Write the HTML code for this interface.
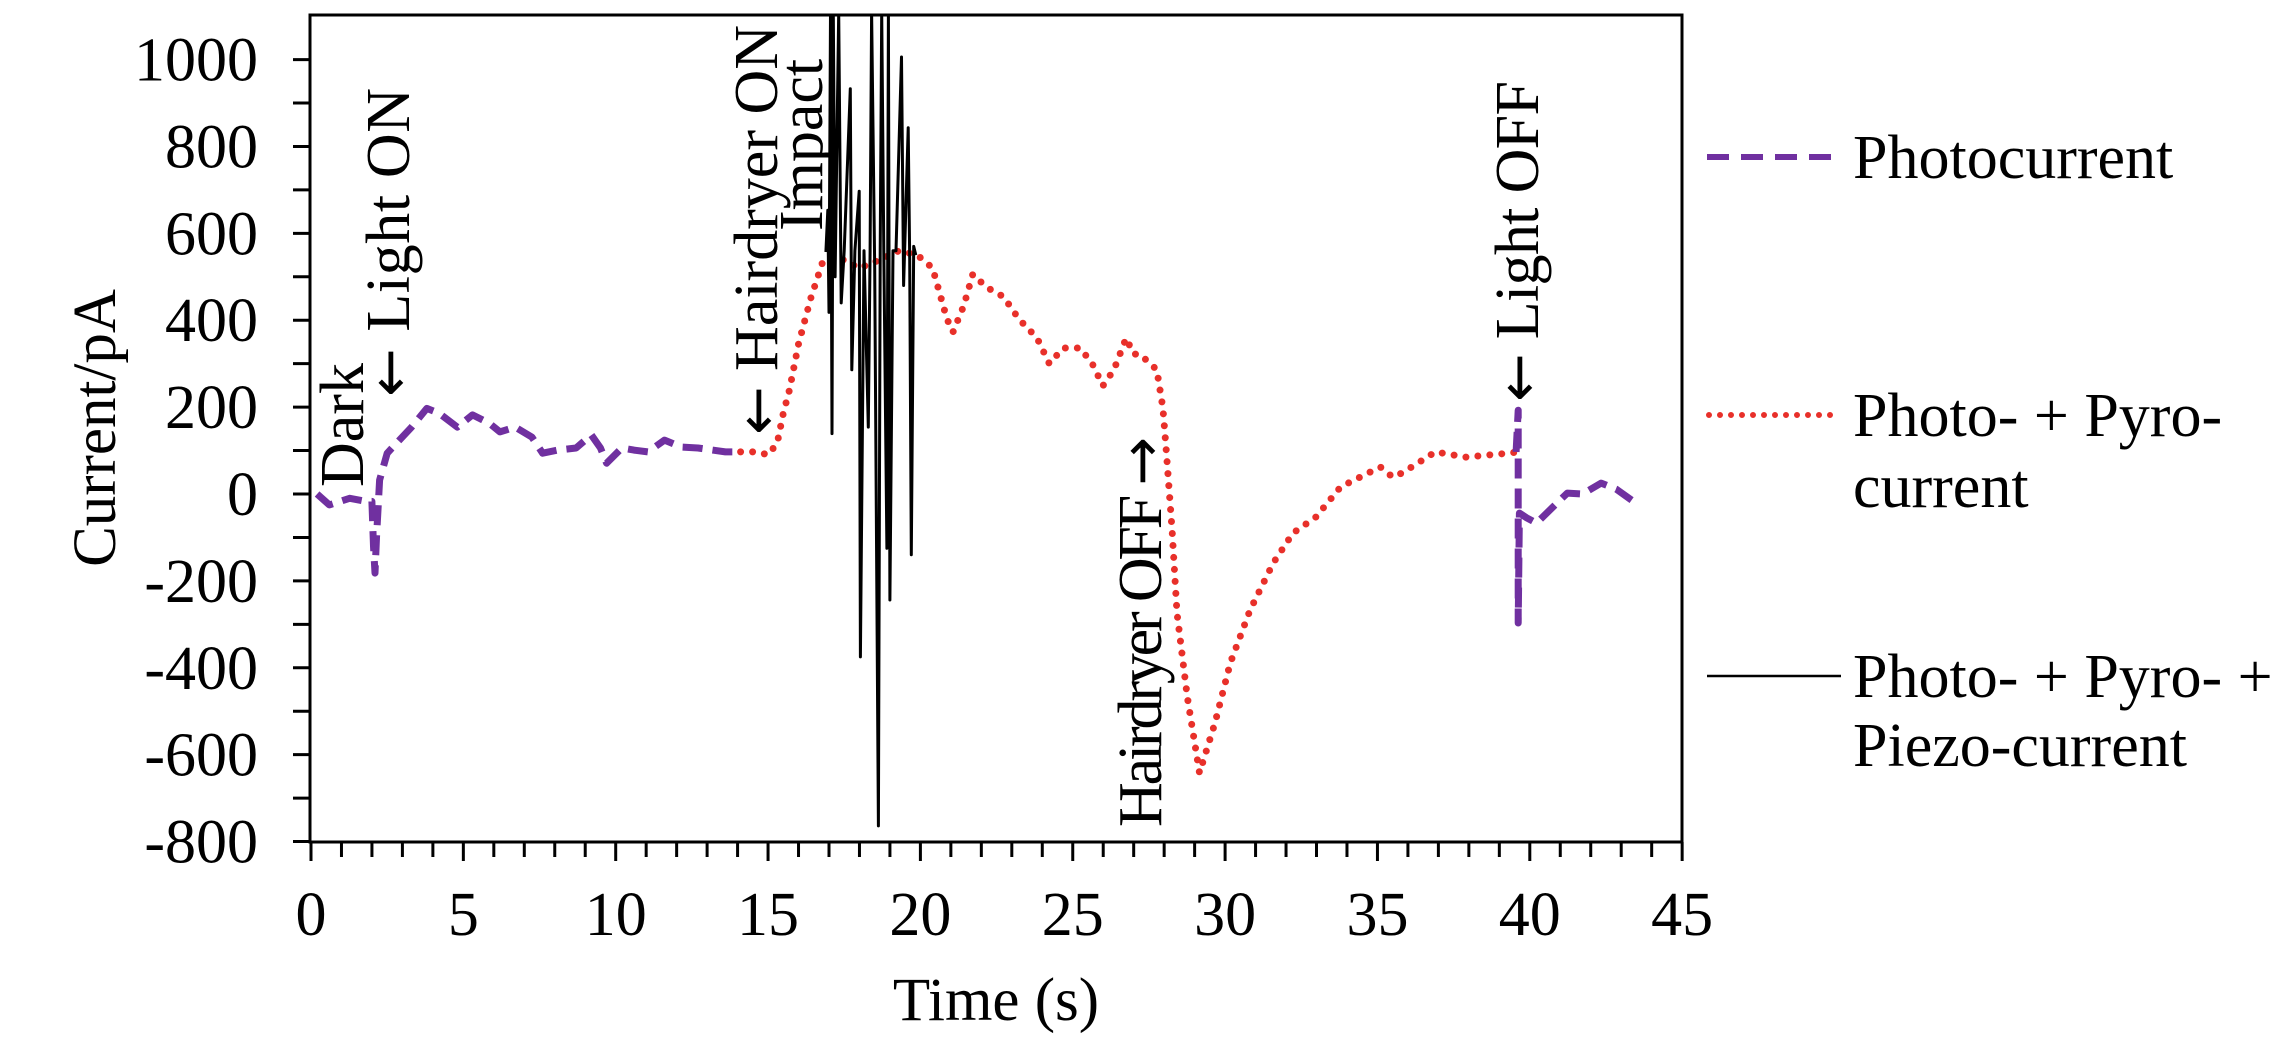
<!DOCTYPE html>
<html><head><meta charset="utf-8"><style>
html,body{margin:0;padding:0;background:#fff}
svg{display:block;font-family:"Liberation Serif","DejaVu Serif",serif}
.ar{font-family:"DejaVu Sans",sans-serif;font-size:58px}
</style></head><body>
<svg id="chart" width="2288" height="1045" viewBox="0 0 2288 1045" xmlns="http://www.w3.org/2000/svg">
<defs><clipPath id="plotclip"><rect x="310" y="15" width="1372" height="827"/></clipPath></defs>
<rect x="0" y="0" width="2288" height="1045" fill="#fff"/>
<g id="series" clip-path="url(#plotclip)"></g>
<rect x="310" y="15" width="1372" height="827" fill="none" stroke="#000" stroke-width="3"/>
<g id="axes"></g>
<g id="annotations" font-size="62" fill="#000">
  <text transform="translate(363,487) rotate(-90)">Dark</text>
  <text transform="translate(409,397) rotate(-90)" textLength="309" lengthAdjust="spacing"><tspan class="ar">←</tspan> Light ON</text>
  <text transform="translate(777,435) rotate(-90)" textLength="410" lengthAdjust="spacing"><tspan class="ar">←</tspan> Hairdryer ON</text>
  <text transform="translate(822,231) rotate(-90)">Impact</text>
  <text transform="translate(1161,827) rotate(-90)" textLength="390" lengthAdjust="spacing">Hairdryer OFF <tspan class="ar">→</tspan></text>
  <text transform="translate(1538,402) rotate(-90)" textLength="321" lengthAdjust="spacing"><tspan class="ar">←</tspan> Light OFF</text>
</g>
<text font-size="61" text-anchor="middle" transform="translate(115,428) rotate(-90)">Current/pA</text>
<text font-size="61" text-anchor="middle" x="996" y="1020">Time (s)</text>
<g id="legend" font-size="62">
  <line x1="1707" y1="157" x2="1841" y2="157" stroke="#7030a0" stroke-width="6" stroke-dasharray="22 12"/>
  <text x="1853" y="178">Photocurrent</text>
  <line x1="1709" y1="415" x2="1838" y2="415" stroke="#e8302a" stroke-width="6" stroke-linecap="round" stroke-dasharray="0 11"/>
  <text x="1853" y="436">Photo- + Pyro-</text>
  <text x="1853" y="507">current</text>
  <line x1="1707" y1="676" x2="1841" y2="676" stroke="#000" stroke-width="2.5"/>
  <text x="1853" y="697">Photo- + Pyro- +</text>
  <text x="1853" y="766">Piezo-current</text>
</g>
</svg>
<script>
const photoT1 = [0.2,0.6,1.27,1.8,2.0,2.05,2.1,2.15,2.25,2.5,2.9,3.3,3.8,4.2,4.8,5.3,5.85,6.2,6.7,7.25,7.6,8.1,8.7,9.2,9.5,9.7,10.2,10.6,11.06,11.6,12.15,12.7,13.6,14.1];
const photoV1 = [0,-25,-10,-17,-17,-120,-182,-100,32,94,124,154,197,186,154,182,163,143,154,131,94,101,106,136,106,71,106,101,97,124,108,106,97,97];
const photoT2 = [39.55,39.62,39.62,39.66,39.9,40.22,40.83,41.23,41.73,42.34,42.84,43.34];
const photoV2 = [97,193,-297,-44,-55,-67,-25,2,0,25,11,-14];
const pyroT = [14.1,14.65,15.0,15.3,15.5,15.7,16.0,16.4,16.8,17.3,18.0,18.7,19.3,19.9,20.4,20.87,21.07,21.42,21.72,22.17,22.73,23.23,23.83,24.23,24.69,25.24,25.64,25.99,26.35,26.75,27.0,27.2,27.76,27.96,28.06,28.26,28.42,28.76,29.16,29.67,30.17,30.82,31.58,32.23,32.98,33.79,34.69,35.1,35.5,35.8,36.3,36.9,37.9,39.3,39.62];
const pyroV = [97,97,90,117,186,239,345,450,536,545,520,540,560,550,520,403,373,433,506,476,454,403,359,300,336,336,300,249,286,359,322,322,286,198,108,-83,-274,-467,-642,-527,-389,-267,-159,-90,-53,16,48,62,39,48,70,97,85,94,97];
const piezoT = [16.9,16.96,17.0,17.05,17.1,17.14,17.2,17.32,17.4,17.5,17.7,17.75,17.85,17.99,18.03,18.15,18.29,18.35,18.4,18.5,18.62,18.68,18.73,18.8,18.9,18.95,19.0,19.1,19.2,19.38,19.45,19.6,19.65,19.7,19.78,19.85];
const piezoV = [557,653,418,1110,139,1110,500,1110,440,560,933,286,560,697,-375,560,154,560,1110,520,-764,560,1110,560,-125,1110,-244,560,560,1006,480,843,540,-140,570,550];
const yTicks = [-800,-600,-400,-200,0,200,400,600,800,1000];
const yTickLabels = ["-800","-600","-400","-200","0","200","400","600","800","1000"];
const xTicks = [0,5,10,15,20,25,30,35,40,45];
const xTickLabels = ["0","5","10","15","20","25","30","35","40","45"];

const X0=311, XS=30.47, Y0=494, YS=0.4344;
function xs(t){return X0+t*XS;}
function ys(v){return Y0-v*YS;}
const NS="http://www.w3.org/2000/svg";
const series=document.getElementById('series');
const axes=document.getElementById('axes');
function pathD(T,V){return T.map((t,i)=>(i?'L':'M')+xs(t).toFixed(1)+' '+ys(V[i]).toFixed(1)).join(' ');}
function addPath(T,V,stroke,w,dash,cap,name){
  const p=document.createElementNS(NS,'path');
  p.setAttribute('d',pathD(T,V));
  p.setAttribute('fill','none');p.setAttribute('stroke',stroke);
  p.setAttribute('stroke-width',w);p.setAttribute('stroke-linejoin','round');
  if(dash)p.setAttribute('stroke-dasharray',dash);
  if(cap)p.setAttribute('stroke-linecap',cap);
  
  
  series.appendChild(p);
}
addPath(pyroT,pyroV,'#e8302a',7,'0 12','round','pyro-current-line');
addPath(photoT1,photoV1,'#7030a0',7,'20 10',null,'photocurrent-line-1');
addPath(photoT2,photoV2,'#7030a0',7,'20 10',null,'photocurrent-line-2');
addPath(piezoT,piezoV,'#000',3,null,null,'piezo-current-line');

function line(x1,y1,x2,y2,w,name){
  const l=document.createElementNS(NS,'line');
  l.setAttribute('x1',x1);l.setAttribute('y1',y1);l.setAttribute('x2',x2);l.setAttribute('y2',y2);
  l.setAttribute('stroke','#000');l.setAttribute('stroke-width',w);
  
  
  axes.appendChild(l);
}
function text(x,y,s,anchor,name){
  const t=document.createElementNS(NS,'text');
  t.setAttribute('x',x);t.setAttribute('y',y);t.setAttribute('font-size','62');
  t.setAttribute('text-anchor',anchor);t.textContent=s;
  
  
  axes.appendChild(t);
}
for(let v=-800;v<=1000;v+=100){line(293,ys(v),310,ys(v),3,'y-tick');}
yTicks.forEach((v,i)=>{text(258,ys(v)+21,yTickLabels[i],'end','y-tick-label');});
for(let t=0;t<=45;t++){line(xs(t),842,xs(t),t%5===0?861:857,3,'x-tick');}
xTicks.forEach((t,i)=>{text(xs(t),935,xTickLabels[i],'middle','x-tick-label');});
</script>
</body></html>
